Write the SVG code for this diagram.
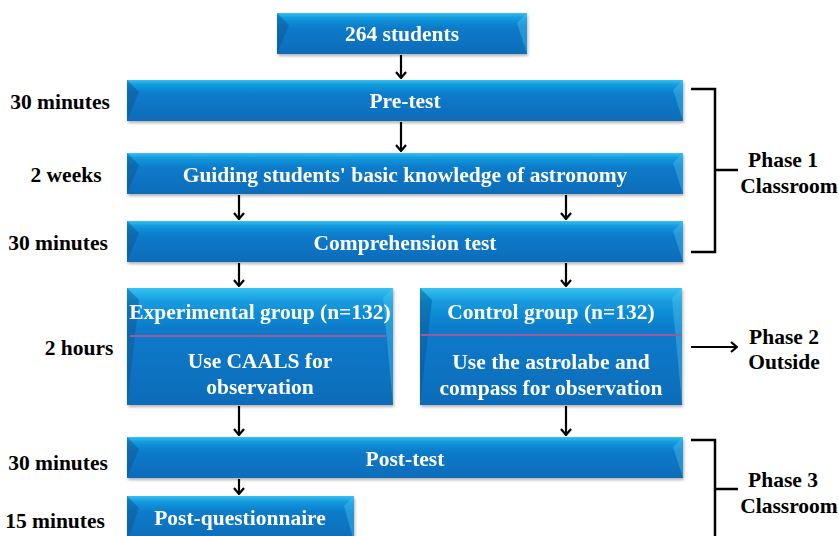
<svg xmlns="http://www.w3.org/2000/svg" width="839" height="536" viewBox="0 0 839 536">
  <defs>
    <linearGradient id="face" x1="0" y1="0" x2="0" y2="1">
      <stop offset="0" stop-color="#36c2f1"/>
      <stop offset="0.12" stop-color="#149ade"/>
      <stop offset="0.35" stop-color="#0a7bca"/>
      <stop offset="1" stop-color="#096cb9"/>
    </linearGradient>
    <filter id="shadow" x="-5%" y="-20%" width="110%" height="150%">
      <feGaussianBlur in="SourceAlpha" stdDeviation="1.5"/>
      <feOffset dx="1" dy="2" result="b"/>
      <feComponentTransfer><feFuncA type="linear" slope="0.3"/></feComponentTransfer>
      <feMerge><feMergeNode/><feMergeNode in="SourceGraphic"/></feMerge>
    </filter>
    <marker id="arrow" viewBox="0 0 12 12" refX="11" refY="6" markerWidth="12" markerHeight="12" markerUnits="userSpaceOnUse" orient="auto">
      <path d="M5,1 L11,6 L5,11" fill="none" stroke="#000" stroke-width="2.2"/>
    </marker>
  </defs>
  <style>
    .face { fill: url(#face); }
    .bevL { fill: #06528f; opacity: 0.45; }
    .bevR { fill: #5ccdf3; opacity: 0.35; }
    .box { filter: url(#shadow); }
    .t { font-family: "Liberation Serif", "Times New Roman", serif; font-weight: bold; font-size: 21.5px; }
    .w { fill: #ffffff; text-anchor: middle; dominant-baseline: central; }
    .k { fill: #000000; text-anchor: middle; dominant-baseline: central; }
    .div { stroke: #9c5a9e; stroke-width: 2; }
    .conn { stroke: #000; stroke-width: 2.2; fill: none; }
    .brk { stroke: #000; stroke-width: 2.5; fill: none; }
  </style>

  <rect width="839" height="536" fill="#ffffff"/>

  <!-- process boxes -->
  <g id="n-students" class="box">
    <rect class="face" x="277" y="13" width="250" height="41"/>
    <polygon class="bevL" points="277,13 289,25 277,54"/>
    <polygon class="bevR" points="527,13 517,23 527,54"/>
    <text class="t w" x="402" y="34">264 students</text>
  </g>

  <g id="n-pretest" class="box">
    <rect class="face" x="127" y="80" width="556" height="41"/>
    <polygon class="bevL" points="127,80 139,92 127,121"/>
    <polygon class="bevR" points="683,80 673,90 683,121"/>
    <text class="t w" x="405" y="101">Pre-test</text>
  </g>

  <g id="n-guiding" class="box">
    <rect class="face" x="127" y="153" width="556" height="41"/>
    <polygon class="bevL" points="127,153 139,165 127,194"/>
    <polygon class="bevR" points="683,153 673,163 683,194"/>
    <text class="t w" x="405" y="175">Guiding students' basic knowledge of astronomy</text>
  </g>

  <g id="n-comprehension" class="box">
    <rect class="face" x="127" y="221" width="556" height="41"/>
    <polygon class="bevL" points="127,221 139,233 127,262"/>
    <polygon class="bevR" points="683,221 673,231 683,262"/>
    <text class="t w" x="405" y="243">Comprehension test</text>
  </g>

  <g id="n-experimental" class="box">
    <rect class="face" x="127" y="288" width="266" height="117"/>
    <polygon class="bevL" points="127,288 139,300 127,405"/>
    <polygon class="bevR" points="393,288 383,298 393,405"/>
    <line class="div" x1="130" y1="336" x2="386" y2="336"/>
    <text class="t w" x="260" y="312">Experimental group (n=132)</text>
    <text class="t w" x="260" y="361">Use CAALS for</text>
    <text class="t w" x="260" y="387">observation</text>
  </g>

  <g id="n-control" class="box">
    <rect class="face" x="420" y="288" width="262" height="117"/>
    <polygon class="bevL" points="420,288 432,300 420,405"/>
    <polygon class="bevR" points="682,288 672,298 682,405"/>
    <line class="div" x1="421" y1="335" x2="681" y2="335"/>
    <text class="t w" x="551" y="312">Control group (n=132)</text>
    <text class="t w" x="551" y="362">Use the astrolabe and</text>
    <text class="t w" x="551" y="388">compass for observation</text>
  </g>

  <g id="n-posttest" class="box">
    <rect class="face" x="127" y="437" width="556" height="41"/>
    <polygon class="bevL" points="127,437 139,449 127,478"/>
    <polygon class="bevR" points="683,437 673,447 683,478"/>
    <text class="t w" x="405" y="459">Post-test</text>
  </g>

  <g id="n-questionnaire" class="box">
    <rect class="face" x="127" y="496" width="227" height="46"/>
    <polygon class="bevL" points="127,496 139,508 127,542"/>
    <polygon class="bevR" points="354,496 344,506 354,542"/>
    <text class="t w" x="240" y="518">Post-questionnaire</text>
  </g>

  <!-- duration labels -->
  <g id="durations">
    <text class="t k" x="60" y="102">30 minutes</text>
    <text class="t k" x="66" y="175">2 weeks</text>
    <text class="t k" x="58" y="243">30 minutes</text>
    <text class="t k" x="79" y="348">2 hours</text>
    <text class="t k" x="58" y="463">30 minutes</text>
    <text class="t k" x="55" y="521">15 minutes</text>
  </g>

  <!-- phase labels with brackets -->
  <g id="phase1">
    <path class="brk" d="M691,89 H715 V252 H691 M715,170 H738"/>
    <text class="t k" x="783" y="160">Phase 1</text>
    <text class="t k" x="789" y="186">Classroom</text>
  </g>
  <g id="phase2">
    <text class="t k" x="784" y="337">Phase 2</text>
    <text class="t k" x="784" y="362">Outside</text>
  </g>
  <g id="phase3">
    <path class="brk" d="M691,440 H715 V540 M715,489 H738"/>
    <text class="t k" x="783" y="480">Phase 3</text>
    <text class="t k" x="789" y="506">Classroom</text>
  </g>

  <!-- connectors -->
  <g id="connectors">
    <line class="conn" x1="401" y1="55" x2="401" y2="78" marker-end="url(#arrow)"/>
    <line class="conn" x1="401" y1="122" x2="401" y2="151" marker-end="url(#arrow)"/>
    <line class="conn" x1="239" y1="195" x2="239" y2="219" marker-end="url(#arrow)"/>
    <line class="conn" x1="566" y1="195" x2="566" y2="219" marker-end="url(#arrow)"/>
    <line class="conn" x1="239" y1="263" x2="239" y2="286" marker-end="url(#arrow)"/>
    <line class="conn" x1="566" y1="263" x2="566" y2="286" marker-end="url(#arrow)"/>
    <line class="conn" x1="239" y1="406" x2="239" y2="435" marker-end="url(#arrow)"/>
    <line class="conn" x1="566" y1="406" x2="566" y2="435" marker-end="url(#arrow)"/>
    <line class="conn" x1="239" y1="479" x2="239" y2="494" marker-end="url(#arrow)"/>
    <line class="conn" x1="691" y1="347" x2="737" y2="347" marker-end="url(#arrow)"/>
  </g>
</svg>
